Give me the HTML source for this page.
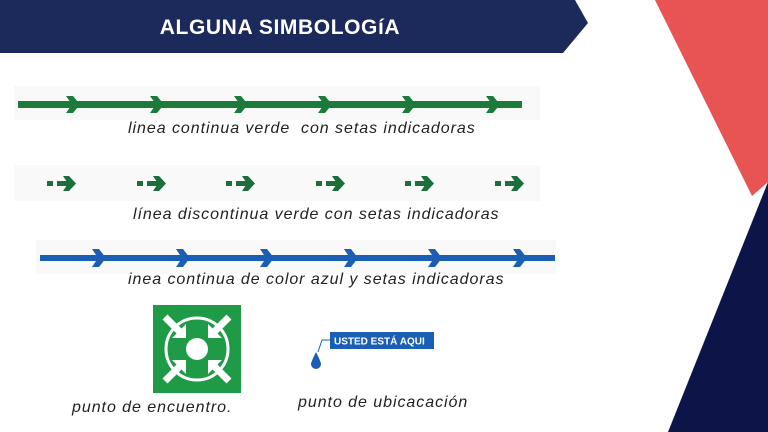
<!DOCTYPE html>
<html><head><meta charset="utf-8"><style>
html,body{margin:0;padding:0}
body{width:768px;height:432px;position:relative;overflow:hidden;background:#fff;font-family:"Liberation Sans",sans-serif}
.t{position:absolute;font-style:italic;font-size:16px;letter-spacing:0.95px;color:#222;white-space:nowrap}
</style></head><body>
<svg width="768" height="432" style="position:absolute;left:0;top:0">
<polygon points="0,0 575,0 588,23 563,53 0,53" fill="#1b2a5a"/>
<polygon points="655,0 768,0 768,182 752,196" fill="#e85353"/>
<polygon points="768,182 668,432 768,432" fill="#0d1548"/>
<text x="280" y="34" font-family="Liberation Sans" font-weight="bold" font-size="21" letter-spacing="0.6" fill="#fff" text-anchor="middle">ALGUNA SIMBOLOGíA</text>
<rect x="14" y="86" width="526" height="34" fill="#f9f9f9"/>
<rect x="18" y="101" width="504" height="7" fill="#1c7a3a"/>
<g fill="#1c7a3a">
<polygon points="66,96 73,96 80,104.5 73,113 66,113 72,104.5"/>
<polygon points="150,96 157,96 164,104.5 157,113 150,113 156,104.5"/>
<polygon points="234,96 241,96 248,104.5 241,113 234,113 240,104.5"/>
<polygon points="318,96 325,96 332,104.5 325,113 318,113 324,104.5"/>
<polygon points="402,96 409,96 416,104.5 409,113 402,113 408,104.5"/>
<polygon points="486,96 493,96 500,104.5 493,113 486,113 492,104.5"/>
</g>
<rect x="14" y="165" width="526" height="36" fill="#f9f9f9"/>
<g fill="#1c6e3a">
<g transform="translate(47,0)"><rect x="0" y="181" width="6" height="5"/><rect x="10" y="181" width="12" height="5"/><polygon points="16,176 22,176 29,183.5 22,191 16,191 21,183.5"/></g>
<g transform="translate(137,0)"><rect x="0" y="181" width="6" height="5"/><rect x="10" y="181" width="12" height="5"/><polygon points="16,176 22,176 29,183.5 22,191 16,191 21,183.5"/></g>
<g transform="translate(226,0)"><rect x="0" y="181" width="6" height="5"/><rect x="10" y="181" width="12" height="5"/><polygon points="16,176 22,176 29,183.5 22,191 16,191 21,183.5"/></g>
<g transform="translate(316,0)"><rect x="0" y="181" width="6" height="5"/><rect x="10" y="181" width="12" height="5"/><polygon points="16,176 22,176 29,183.5 22,191 16,191 21,183.5"/></g>
<g transform="translate(405,0)"><rect x="0" y="181" width="6" height="5"/><rect x="10" y="181" width="12" height="5"/><polygon points="16,176 22,176 29,183.5 22,191 16,191 21,183.5"/></g>
<g transform="translate(495,0)"><rect x="0" y="181" width="6" height="5"/><rect x="10" y="181" width="12" height="5"/><polygon points="16,176 22,176 29,183.5 22,191 16,191 21,183.5"/></g>
</g>
<rect x="36" y="240" width="520" height="34" fill="#f9f9f9"/>
<rect x="40" y="255" width="515" height="6" fill="#1a5fb4"/>
<g fill="#1a5fb4">
<polygon points="92,249 99,249 106,258 99,267 92,267 98,258"/>
<polygon points="176,249 183,249 190,258 183,267 176,267 182,258"/>
<polygon points="260,249 267,249 274,258 267,267 260,267 266,258"/>
<polygon points="344,249 351,249 358,258 351,267 344,267 350,258"/>
<polygon points="428,249 435,249 442,258 435,267 428,267 434,258"/>
<polygon points="513,249 520,249 527,258 520,267 513,267 519,258"/>
</g>
<rect x="153" y="305" width="88" height="88" fill="#1f9a46"/>
<circle cx="197" cy="349" r="31" fill="none" stroke="#fff" stroke-width="3"/>
<circle cx="197" cy="349" r="11" fill="#fff"/>
<g fill="#fff" stroke="#fff">
<line x1="165" y1="317" x2="183" y2="335" stroke-width="7"/>
<line x1="229" y1="317" x2="211" y2="335" stroke-width="7"/>
<line x1="165" y1="381" x2="183" y2="363" stroke-width="7"/>
<line x1="229" y1="381" x2="211" y2="363" stroke-width="7"/>
<polygon points="186,338 172,338 186,324" stroke="none"/>
<polygon points="208,338 222,338 208,324" stroke="none"/>
<polygon points="186,360 172,360 186,374" stroke="none"/>
<polygon points="208,360 222,360 208,374" stroke="none"/>
</g>
<rect x="330" y="332" width="104" height="17" fill="#1a5fb4"/>
<text x="334" y="344.5" font-family="Liberation Sans" font-weight="bold" font-size="10" fill="#fff">USTED ESTÁ  AQUI</text>
<polyline points="330,340 322,340 318,352" fill="none" stroke="#1a5fb4" stroke-width="1"/>
<path d="M316,352 Q311,362 311,364 A5,5 0 0 0 321,364 Q321,362 316,352Z" fill="#1a5fb4"/>
</svg>
<div class="t" style="left:128px;top:120px">linea continua verde&nbsp; con setas indicadoras</div>
<div class="t" style="left:133px;top:206px">línea discontinua verde con setas indicadoras</div>
<div class="t" style="left:128px;top:271px">inea continua de color azul y setas indicadoras</div>
<div class="t" style="left:72px;top:399px">punto de encuentro.</div>
<div class="t" style="left:298px;top:394px">punto de ubicacación</div>
</body></html>
